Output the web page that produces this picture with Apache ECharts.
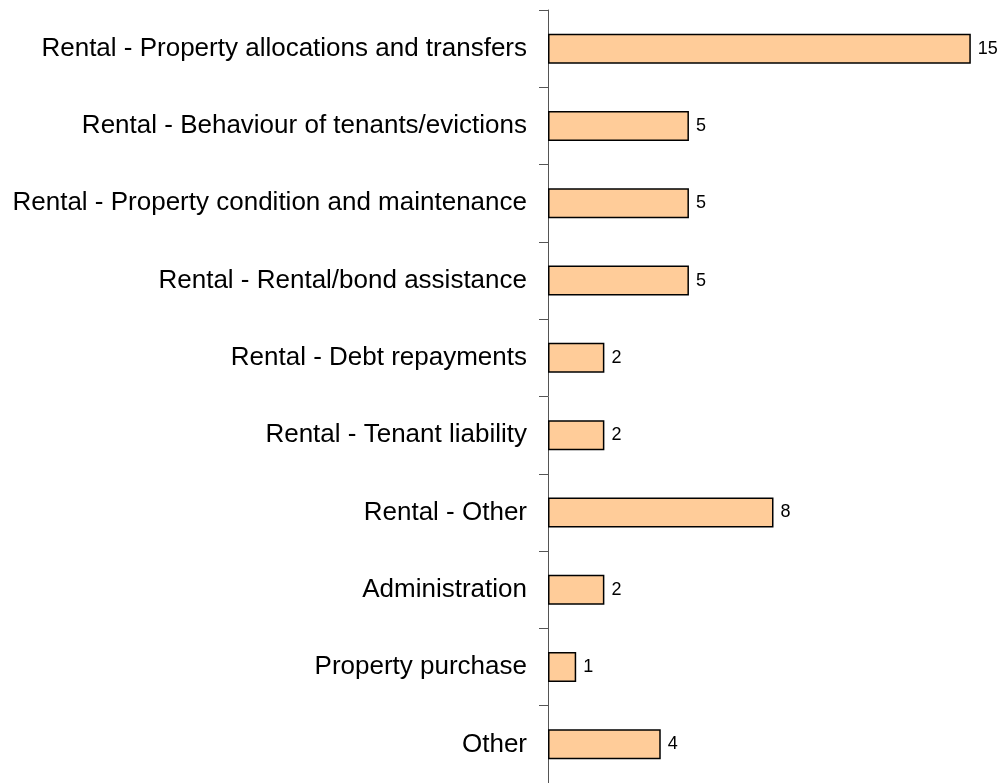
<!DOCTYPE html>
<html>
<head>
<meta charset="utf-8">
<script src="https://cdn.jsdelivr.net/npm/echarts@6/dist/echarts.min.js"></script>
<style>
  html, body { margin: 0; padding: 0; background: #fff; }
  #chart { width: 1007px; height: 783px; }
</style>
</head>
<body>
<div id="chart"></div>
<script>
var categories = [
    "Rental - Property allocations and transfers",
    "Rental - Behaviour of tenants/evictions",
    "Rental - Property condition and maintenance",
    "Rental - Rental/bond assistance",
    "Rental - Debt repayments",
    "Rental - Tenant liability",
    "Rental - Other",
    "Administration",
    "Property purchase",
    "Other"
]
var counts = [15, 5, 5, 5, 2, 2, 8, 2, 1, 4]

var myChart = echarts.init(document.getElementById("chart"))

myChart.setOption({
    animation: false,
    textStyle: { fontFamily: "Liberation Sans, Arial, sans-serif" },
    grid: { left: 548, right: 8, top: 10, bottom: -2 },
    xAxis: {
        type: "value",
        min: 0,
        max: 16,
        show: false
    },
    yAxis: {
        type: "category",
        inverse: true,
        data: categories,
        axisLine: { show: true, lineStyle: { color: "#555", width: 1 } },
        axisTick: { show: true, inside: false, length: 9, lineStyle: { color: "#555" } },
        axisLabel: { color: "#000", fontSize: 26, margin: 21 }
    },
    series: [{
        type: "bar",
        data: counts,
        barWidth: 30,
        itemStyle: { color: "#FFCC99", borderColor: "#000", borderWidth: 1.5 },
        label: { show: true, position: "right", distance: 7, color: "#000", fontSize: 18 }
    }]
})
</script>
</body>
</html>
